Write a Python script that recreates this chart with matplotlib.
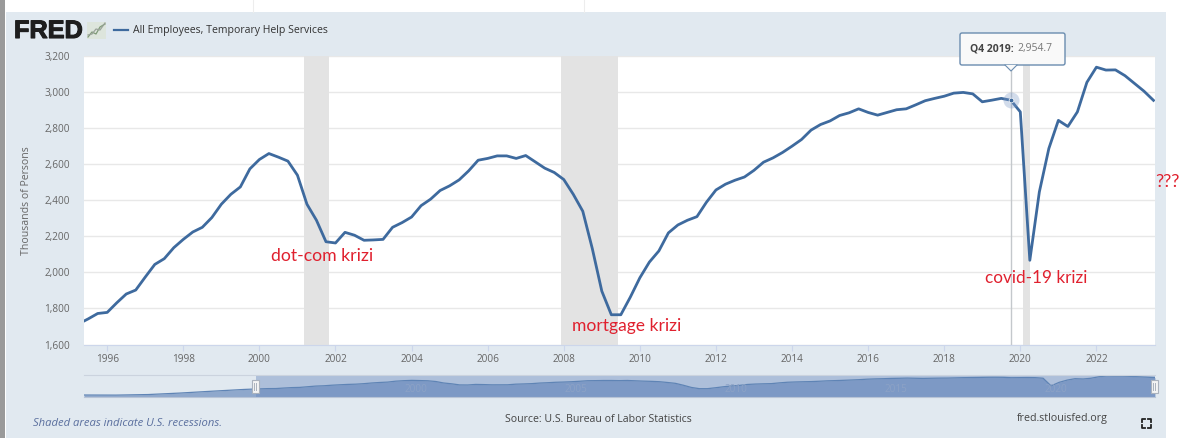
"""FRED chart: All Employees, Temporary Help Services, with hand written crisis notes"""
import numpy as np
import matplotlib.pyplot as plt
import matplotlib.patheffects as pe
from matplotlib.patches import Rectangle, FancyBboxPatch, Polygon

W, H = 1200, 438

# quarterly, first value is Q2 1995
quarters = np.arange(1995.25, 2023.75, 0.25)
employees = [
    1715, 1742, 1772,
    1778, 1831, 1880, 1902,
    1974, 2044, 2076, 2137,
    2183, 2224, 2250, 2304,
    2378, 2433, 2474, 2574,
    2626, 2659, 2639, 2617,
    2539, 2378, 2289, 2170,
    2163, 2222, 2206, 2178,
    2180, 2183, 2250, 2276,
    2307, 2370, 2406, 2454,
    2480, 2513, 2563, 2622,
    2632, 2646, 2646, 2632,
    2648, 2613, 2578, 2554,
    2515, 2433, 2339, 2132,
    1896, 1765, 1765, 1863,
    1970, 2057, 2119, 2219,
    2263, 2289, 2309, 2389,
    2457, 2489, 2511, 2529,
    2566, 2611, 2635, 2665,
    2700, 2737, 2789, 2820,
    2840, 2870, 2885, 2907,
    2887, 2872, 2887, 2902,
    2907, 2929, 2952, 2965,
    2977, 2994, 2998, 2990,
    2946, 2955, 2965, 2954.7,
    2890, 2067, 2446, 2687,
    2843, 2809, 2890, 3054,
    3138, 3122, 3123, 3091,
    3048, 3005, 2954,
]
# the navigator goes further back than the main plot
early_years = [1990, 1991, 1992, 1993, 1994, 1995]
early_values = [1080, 1070, 1130, 1290, 1490, 1680]

recessions = [(2001.17, 2001.83), (2007.92, 2009.42), (2020.08, 2020.25)]
y_ticks = [1600, 1800, 2000, 2200, 2400, 2600, 2800, 3000, 3200]
x_ticks = list(range(1996, 2024, 2))
nav_labels = [2000, 2005, 2010, 2015, 2020]
hover_quarter = 2019.75
hover_value = 2954.7

notes = ["dot-com krizi", "mortgage krizi", "covid-19 krizi", "???"]
note_pos = [(271, 256), (572, 326), (985, 278), (1155, 182)]
note_size = [12.7, 12.6, 12.3, 13.2]

PANEL = "#E1E9F0"
LINE = "#3E6A9E"
GREY = "#666666"
RED = "#E0202E"

plt.rcParams['font.family'] = ['Open Sans', 'DejaVu Sans']


def px_axes(left, top, right, bottom):
    return fig.add_axes([left / W, 1 - bottom / H, (right - left) / W, (bottom - top) / H])


fig = plt.figure(figsize=(W / 100, H / 100), dpi=100, facecolor="white")

# background in pixel coordinates
bg = fig.add_axes([0, 0, 1, 1], zorder=0)
bg.set_xlim(0, W)
bg.set_ylim(H, 0)
bg.axis("off")
bg.add_patch(Rectangle((0, 0), 5, H, color="#9A9A9A", lw=0))
bg.add_patch(Rectangle((6, 12), 1160, H - 12, color=PANEL, lw=0))
bg.plot([252.5, 252.5], [0, 12], color="#EDEDED", lw=0.8)
bg.plot([583.5, 583.5], [0, 12], color="#EDEDED", lw=0.8)

# main plot
ax = px_axes(84, 56, 1155, 344.5)
ax.set_facecolor("white")
ax.set_xlim(1995.39, 2023.54)
ax.set_ylim(1600, 3200)
for start, end in recessions:
    ax.axvspan(start, end, color="#E3E3E3", lw=0, zorder=1)
ax.set_yticks(y_ticks)
ax.set_yticklabels([f"{v:,}" for v in y_ticks])
ax.set_xticks(x_ticks)
ax.grid(axis="y", color="#E8E8E8", lw=1, zorder=0)
ax.set_axisbelow(True)
for side in ["top", "left", "right"]:
    ax.spines[side].set_visible(False)
ax.spines["bottom"].set_color("#CCD6EB")
ax.tick_params(axis="y", length=0, pad=10, labelsize=7.2, labelcolor=GREY)
ax.tick_params(axis="x", length=4, width=0.8, color="#CCD6EB", pad=3, labelsize=7.2, labelcolor=GREY)
ax.set_ylabel("Thousands of Persons", fontsize=7.6, color=GREY)
ax.yaxis.set_label_coords((32 - 84) / 1071, 0.5)
ax.axvline(hover_quarter, color="#C4C8CC", lw=1, zorder=2)
ax.plot(quarters, employees, color=LINE, lw=2.0, zorder=3, solid_joinstyle="round")
ax.plot([hover_quarter], [hover_value], "o", ms=11.5, color="#7F9BC8", alpha=0.35, mew=0, zorder=4)
ax.plot([hover_quarter], [hover_value], "o", ms=3.4, color=LINE, mec="white", mew=0.5, zorder=5)

# navigator under the plot
nav = px_axes(84, 375, 1155, 397)
nav.set_xlim(1990, 2023.5)
nav.set_ylim(866, 3240)
nav_x = np.concatenate([early_years, quarters])
nav_y = np.concatenate([early_values, employees])
nav.set_facecolor(PANEL)
nav.fill_between(nav_x, nav_y, 866, color="#8FA8CC", lw=0)
nav.plot(nav_x, nav_y, color="#5F84B5", lw=0.9)
nav.axvspan(quarters[0] + 0.14, 2023.5, color="#6686BC", alpha=0.42, lw=0)
for year in nav_labels:
    nav.text(year + 0.4, 1729, str(year), ha="center", va="center", fontsize=7.2, color="#8CA2C6", zorder=6)
nav.set_xticks([])
nav.set_yticks([])
for side in ["top", "left", "right"]:
    nav.spines[side].set_visible(False)
nav.spines["bottom"].set_color("#B8C4D6")

# everything else on top, again in pixels
top = fig.add_axes([0, 0, 1, 1], zorder=10)
top.set_xlim(0, W)
top.set_ylim(H, 0)
top.axis("off")

top.plot([84, 1155], [375, 375], color="#CBD3DE", lw=0.8)
for hx in (255, 1154):
    top.add_patch(Rectangle((hx - 3.5, 380), 7, 13, fc="#F4F4F4", ec="#AAB2BD", lw=0.8))
    top.plot([hx - 1, hx - 1], [383, 390], color="#AAB2BD", lw=0.7)
    top.plot([hx + 1, hx + 1], [383, 390], color="#AAB2BD", lw=0.7)

# header
top.text(14, 31, "FRED", fontsize=18.2, fontweight="bold", family="Liberation Sans", color="#1E1E1E",
         va="center", ha="left", path_effects=[pe.withStroke(linewidth=0.8, foreground="#1E1E1E")])
top.add_patch(Rectangle((87, 22), 19, 17, fc="#DDE5DC", ec="none"))
top.plot([88, 92, 96, 100, 105], [37, 32, 34, 27, 24], color="#7F9A78", lw=0.9)
top.plot([88, 92, 96, 100, 105], [35, 34, 29, 30, 23], color="#9AA39A", lw=0.9)
top.plot([114, 128], [29.5, 29.5], color=LINE, lw=1.6)
top.text(133, 30, "All Employees, Temporary Help Services", fontsize=7.55, color="#333333", va="center")

# tooltip
top.add_patch(FancyBboxPatch((960, 33), 105, 32, boxstyle="round,pad=0,rounding_size=2",
                             fc="#F9F9F9", ec="#6A8CAF", lw=1))
top.add_patch(Polygon([[1005, 65], [1011, 71], [1017, 65]], closed=True, fc="#F9F9F9", ec="none"))
top.plot([1005, 1011, 1017], [65, 71, 65], color="#6A8CAF", lw=0.8)
top.text(970, 49, "Q4 2019:", fontsize=7.5, fontweight="bold", color="#444444", va="center")
top.text(1017, 49, f"{hover_value:,}", fontsize=7.5, color="#777777", va="center")

# footer
top.text(33, 423, "Shaded areas indicate U.S. recessions.", fontsize=8.1, style="italic", color="#5A6F9E", va="center")
top.text(505, 419, "Source: U.S. Bureau of Labor Statistics", fontsize=7.57, color="#444444", va="center")
top.text(1017, 419, "fred.stlouisfed.org", fontsize=7.7, color="#444444", va="center")
for cx, sx in ((1142, 1), (1151, -1)):
    for cy, sy in ((419, 1), (428, -1)):
        top.plot([cx + 3 * sx, cx, cx], [cy, cy, cy + 3 * sy], color="#222222", lw=1.3)

# hand written notes
for note, (nx, ny), size in zip(notes, note_pos, note_size):
    top.text(nx, ny, note, fontsize=size, family="Lato", color=RED, va="center", ha="left")

fig.savefig("out.png", dpi=100)
